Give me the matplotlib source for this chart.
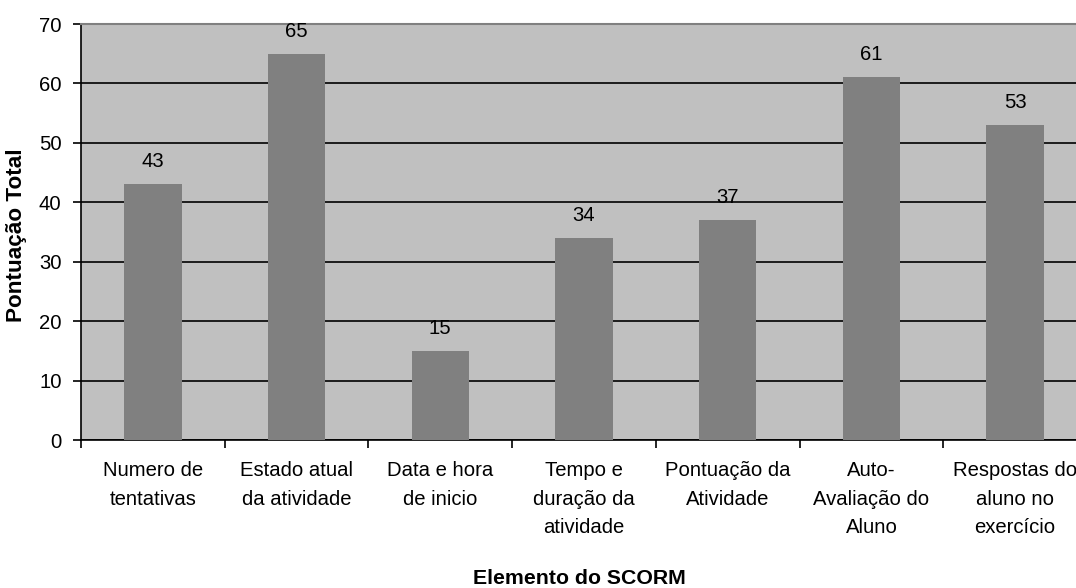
import matplotlib
matplotlib.use("Agg")
import matplotlib.pyplot as plt
import numpy as np

categories = ["Numero de\ntentativas", "Estado atual\nda atividade", "Data e hora\nde inicio",
              "Tempo e\nduração da\natividade", "Pontuação da\nAtividade",
              "Auto-\nAvaliação do\nAluno", "Respostas do\naluno no\nexercício"]
values = [43, 65, 15, 34, 37, 61, 53]
yticks = [0, 10, 20, 30, 40, 50, 60, 70]

plt.rcParams['font.family'] = ['Liberation Sans', 'DejaVu Sans']
FS = 14.6

W, H = 1076, 588
fig = plt.figure(figsize=(W/100, H/100), dpi=100)
left, right, top, bottom = 81, 1087, 24, 440
ax = fig.add_axes([left/W, 1-bottom/H, (right-left)/W, (bottom-top)/H])
ax.set_facecolor('#C0C0C0')

x = np.arange(len(values)) + 0.5
ax.bar(x, values, width=0.4, color='#808080', zorder=3)
for xi, v in zip(x, values):
    ax.text(xi, v + 3.8, str(v), ha='center', va='center', fontsize=FS, zorder=4)

ax.set_xlim(0, len(values))
ax.set_ylim(0, 70)
ax.set_yticks(yticks)
ax.set_yticklabels([str(t) for t in yticks], fontsize=FS)
ax.yaxis.grid(True, color='black', linewidth=1.2, zorder=1)
ax.set_axisbelow(True)

ax.set_xticks(np.arange(len(values) + 1))
ax.set_xticklabels([])
ax.set_xticks(x, minor=True)
ax.set_xticklabels(categories, minor=True, fontsize=FS, linespacing=1.65, va='top')
ax.tick_params(axis='x', which='minor', length=0, pad=15)
ax.tick_params(axis='x', which='major', length=6, width=1.2, direction='out')
ax.tick_params(axis='y', length=6, width=1.2, direction='out', pad=8)

ax.spines['right'].set_visible(False)
ax.spines['top'].set_color('#808080')
ax.spines['top'].set_linewidth(1.5)
ax.spines['left'].set_linewidth(1.2)
ax.spines['bottom'].set_linewidth(1.2)

fig.text(17/W, 1-235/H, "Pontuação Total", rotation=90, ha='center', va='center',
         fontsize=16.2, fontweight='bold')
fig.text(579/W, 1-578/H, "Elemento do SCORM", ha='center', va='center',
         fontsize=15.3, fontweight='bold')

fig.savefig("out.png", dpi=100)
